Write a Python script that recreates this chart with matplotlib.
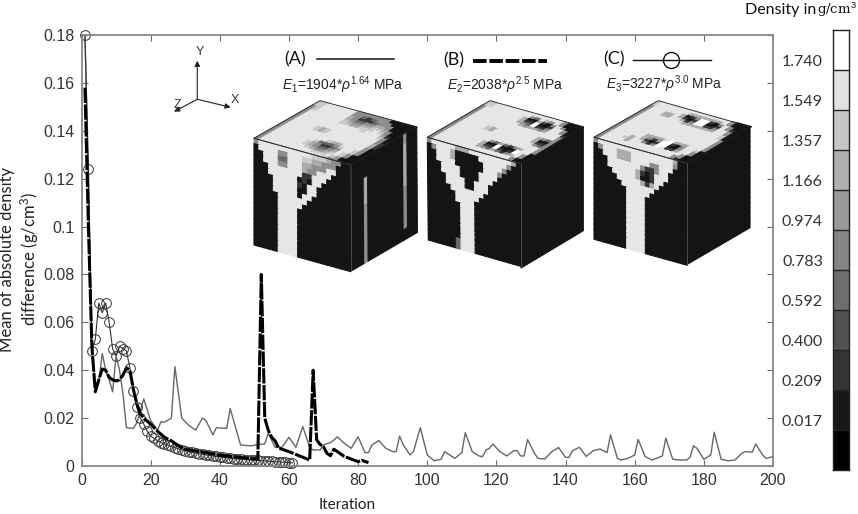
import matplotlib
matplotlib.use('Agg')

import matplotlib.pyplot as plt
from matplotlib.collections import PolyCollection
from matplotlib.patches import Polygon

plt.rcParams['font.family'] = ['Liberation Sans', 'DejaVu Sans']
plt.rcParams['mathtext.fontset'] = 'custom'
plt.rcParams['mathtext.rm'] = 'Liberation Sans'
plt.rcParams['mathtext.it'] = 'Liberation Sans:italic'
plt.rcParams['mathtext.bf'] = 'Liberation Sans:bold'

# curve (A), thin line, vertices
iter_a = [1, 2, 3, 4, 5, 6, 7, 8, 9, 10, 11, 12, 13, 15, 16, 18, 20, 22, 23, 24, 26, 27, 29, 31, 33, 35, 36,
          38, 39, 42, 43, 46, 49, 51, 53, 54, 56, 58, 60, 62, 64, 66, 67, 69, 70, 72, 73, 74, 76, 78, 80, 82,
          83, 84, 86, 88, 90, 91, 92, 93, 95, 96, 98, 100, 102, 104, 105, 108, 110, 111, 113, 115, 116, 117,
          118, 119, 121, 123, 125, 126, 127, 128, 129, 131, 132, 134, 136, 138, 140, 141, 142, 144, 146, 148,
          150, 152, 153, 155, 156, 158, 160, 161, 163, 165, 168, 169, 171, 173, 175, 176, 177, 178, 180, 182,
          183, 185, 187, 189, 191, 192, 194, 195, 197, 198, 200]
diff_a = [.18, .12, .05, .032, .035, .047, .04, .036, .031, .046, .04, .03, .016, .0157, .018, .028, .019,
          .015, .0185, .0183, .02, .0415, .02, .017, .015, .02, .019, .013, .016, .0157, .024, .0088, .0084,
          .009, .0092, .0137, .0078, .0078, .012, .0078, .0165, .0078, .0067, .0067, .0088, .0098, .0108,
          .0122, .0095, .0074, .0122, .0056, .0056, .0088, .0106, .0074, .006, .006, .0125, .009, .0046,
          .006, .016, .0046, .0022, .0028, .006, .0032, .0056, .0139, .006, .0042, .0039, .0067, .0074,
          .0092, .006, .0042, .0064, .0064, .0042, .0042, .0111, .0053, .0032, .0029, .006, .0077, .0036,
          .0036, .0064, .0078, .004, .0064, .0071, .0056, .013, .0032, .0025, .0032, .0046, .0111, .004,
          .0025, .0042, .0116, .0028, .0025, .0025, .0036, .0084, .0074, .0028, .0046, .0141, .0028, .0022,
          .0025, .0053, .006, .0058, .0092, .0046, .0032, .0039]

# curve (B), thick dashed line
iter_b = [1, 2, 3, 4, 5, 6, 7, 8, 9, 10, 11, 12, 13, 14, 15, 16, 17, 18, 20, 22, 24, 26, 28, 30, 35, 40, 45,
          50, 51, 52, 53, 54, 55, 56, 57, 60, 66, 67, 68, 69, 70, 71, 72, 73, 76, 80, 81, 83]
diff_b = [.158, .1, .05, .031, .036, .0405, .04, .037, .036, .0355, .036, .038, .041, .04, .032, .026, .022,
          .02, .0175, .0145, .012, .0105, .0085, .007, .0058, .0045, .0037, .003, .003, .08, .02, .015, .012,
          .0105, .0075, .006, .0025, .04, .011, .009, .008, .0053, .0043, .007, .004, .0018, .0024, .0014]

# curve (C), thin line with open circles
iter_c = list(range(1, 62))
diff_c = [.18, .124, .048, .053, .068, .064, .068, .06, .049, .046, .05, .049, .048, .041, .0315, .0245, .02,
          .0175, .0145, .0125, .0115, .0105, .0098, .0092, .0087, .0082, .0077, .0072, .0068, .0064, .006,
          .0057, .0054, .0051, .0049, .0046, .0044, .0042, .004, .0038, .0036, .0034, .0032, .0031, .003,
          .0028, .0027, .0026, .0025, .0024, .0023, .0022, .0021, .002, .0019, .0018, .0017, .0016, .0015,
          .0014, .0013]

y_ticks = [0, .02, .04, .06, .08, .1, .12, .14, .16, .18]
y_labels = ['0', '0.02', '0.04', '0.06', '0.08', '0.1', '0.12', '0.14', '0.16', '0.18']
x_ticks = list(range(0, 201, 20))

density_labels = ['1.740', '1.549', '1.357', '1.166', '0.974', '0.783', '0.592', '0.400', '0.209', '0.017']
density_grays = [1.0, .88, .78, .69, .6, .52, .43, .32, .21, .09, 0.0]

# voxel faces, one digit per cell, index into FACE_GRAYS
FACE_GRAYS = ['#141414', '#383838', '#6a6a6a', '#8e8e8e', '#ababab', '#c9c9c9', '#e6e6e6', '#ffffff']

top_a = ['33333333333333333355', '66666666666666665555', '66666666666666666666', '66666666666666666666',
         '66666666666666666666', '66666666666666666666', '66666666655666666666', '66666666644666666666',
         '66655666655666554433', '66544566666666543333', '66433266666666432123', '65321256666666432113',
         '65321246666666543123', '65432346666665543233', '56543566666666554333', '35666666666666654330',
         '33556666666666543300', '00335566666654330000', '00003333443331000000', '00000000111000000000']
left_a = ['36666666666655543300', '06666336665544333000', '00666226664433366000', '00666336664336660000',
          '00066666661166600000', '00066666601066000000', '00006666610660000000', '00006666600660000000',
          '00006666606600000000', '00000666666000000000', '00000666660000000000', '00000666600000000000',
          '00000666600000000000', '00000666600000000000', '00000666600000000000', '00000666600000000000',
          '00000666600000000000', '00000666600000000000', '00000666600000000000', '00000666600000000000']
right_a = ['00000000000000003000', '00000000000000003000', '00000000000000004000', '00000000000000004000',
           '00004000000000004000', '00004000000000004000', '00004000000000004000', '00004000000000004000',
           '00004000000000004000', '00003000000000004000', '00003000000000003000', '00003000000000003000',
           '00003000000000003000', '00003000000000003000', '00003000000000003000', '00003000000000003000',
           '00003000000000003000', '00003000000000003000', '00003000000000000000', '00003000000000000000']

top_b = ['33333333333333333355', '66666666666666666655', '66666666666666666666', '66666666666666666666',
         '66666666666666666666', '66666666666666666666', '66666666655666666666', '66666666644666666666',
         '66666666666666666666', '66444666666666644466', '66310366666666431036', '66210266666666321026',
         '66477466666666477466', '66210266666666410146', '66100166666666310036', '66310366666666431366',
         '66477466644466666633', '33666666310366666300', '00336666210266633000', '00000333333333100000']
left_b = ['36666644466666666640', '03666400000666666300', '00666400000066663000', '00666600000066630000',
          '00066660000666600000', '00066660000666000000', '00006666006660000000', '00006666006660000000',
          '00000666666600000000', '00000066666000000000', '00000066660000000000', '00000006660000000000',
          '00000006660000000000', '00000006660000000000', '00000006660000000000', '00000006660000000000',
          '00000006660000000000', '00000006660000000000', '00000026660000000000', '00000026660000000000']
right_dark = ['00000000000000000000'] * 20

top_c = ['33333333333333333355', '66666666666666666666', '66666666666666666666', '66666666666666666666',
         '66656666666666644666', '66444666666666644666', '66666666666666666666', '66664446666666664466',
         '66631346666666641046', '66610146666666410146', '66631346666666431346', '66677766666666477746',
         '66667776666666477746', '66610146666666410146', '66610046666666410046', '66643346666666431366',
         '33666666666666666633', '03366666666666663300', '00033566666655331000', '00000033333300000000']
left_c = ['36666666666666666400', '03666444666666666300', '00666444666633666000', '00066666663113660000',
          '00066666641016660000', '00006666640016600000', '00000666664146000000', '00000066666660000000',
          '00000006666600000000', '00000006666000000000', '00000006666000000000', '00000006666000000000',
          '00000006666000000000', '00000006666000000000', '00000006666000000000', '00000006666000000000',
          '00000006666000000000', '00000006666000000000', '00000006666000000000', '00000006666000000000']


def draw_face(ax, grid, origin, col_end, row_end):
    """Maps a grid of gray digits onto the parallelogram given by three corners in pixels."""
    n_rows, n_cols = len(grid), len(grid[0])
    dcx = (col_end[0] - origin[0]) / n_cols
    dcy = (col_end[1] - origin[1]) / n_cols
    drx = (row_end[0] - origin[0]) / n_rows
    dry = (row_end[1] - origin[1]) / n_rows

    polys, colors = [], []
    for r, row in enumerate(grid):
        for c, level in enumerate(row):
            base_x = origin[0] + c * dcx + r * drx
            base_y = origin[1] + c * dcy + r * dry
            polys.append([(base_x, base_y), (base_x + dcx, base_y + dcy),
                          (base_x + dcx + drx, base_y + dcy + dry), (base_x + drx, base_y + dry)])
            colors.append(FACE_GRAYS[int(level)])
    ax.add_collection(PolyCollection(polys, facecolors=colors, edgecolors=colors, linewidths=0.8))


def draw_cube(ax, top, left, right, corners):
    back, lft, rgt, front, bot_left, bot_front, bot_right = corners
    draw_face(ax, top, lft, back, front)
    draw_face(ax, left, lft, front, bot_left)
    draw_face(ax, right, front, rgt, bot_front)
    ax.add_patch(Polygon([lft, back, rgt, front], fill=False, edgecolor='#222222', linewidth=0.6))
    ax.plot([front[0], bot_front[0]], [front[1], bot_front[1]], color='#555555', linewidth=0.6)
    ax.plot([front[0], lft[0]], [front[1], lft[1]], color='#333333', linewidth=0.6)


fig = plt.figure(figsize=(8.58, 5.14), dpi=100)
FIG_W, FIG_H = 858, 514

ax = fig.add_axes([81.5 / FIG_W, 1 - 466 / FIG_H, (773 - 81.5) / FIG_W, (466 - 35) / FIG_H])
ax.plot(iter_a, diff_a, color='#666666', linewidth=1.0)
ax.plot(iter_c, diff_c, color='#333333', linewidth=0.8, marker='o', markersize=7,
        markerfacecolor='none', markeredgecolor='#333333', markeredgewidth=0.7, clip_on=False)
ax.plot(iter_b, diff_b, color='black', linewidth=2.2, linestyle=(0, (5, 0.5)))

ax.set_xlim(0, 200)
ax.set_ylim(0, 0.18)
ax.set_xticks(x_ticks)
ax.set_yticks(y_ticks)
ax.set_yticklabels(y_labels)
ax.tick_params(direction='in', length=4, width=0.8, color='#666666', labelcolor='#333333',
               labelsize=11.5, top=True, right=True, pad=5)
for spine in ax.spines.values():
    spine.set_color('#888888')
    spine.set_linewidth(1.3)

# overlay in reference pixels for the insets and the annotations
over = fig.add_axes([0, 0, 1, 1])
over.set_xlim(0, FIG_W)
over.set_ylim(FIG_H, 0)
over.axis('off')

SANS = ['Lato', 'DejaVu Sans']
over.text(347, 505, 'Iteration', family=SANS, fontsize=11, ha='center', va='center', color='#222222')
over.text(20, 259, 'Mean of absolute density\ndifference (g/cm$^3$)', family=SANS, fontsize=12, rotation=90,
          ha='center', va='center', color='#222222', linespacing=1.15)
over.text(745, 10, 'Density in', family=SANS, fontsize=11.5, ha='left', va='center', color='#111111')
over.text(817, 10, 'g/cm$^3$', family=['DejaVu Serif'], fontsize=9.5, ha='left', va='center', color='#111111')

# orientation triad
origin = (197.3, 99.3)
for tip, name, label_pos in [((197.3, 60.7), 'Y', (200, 52)), ((230.7, 107.3), 'X', (234.7, 100)),
                             ((174, 111.7), 'Z', (177, 105))]:
    over.annotate('', xy=tip, xytext=origin,
                  arrowprops=dict(arrowstyle='-|>', color='#222222', linewidth=0.8, mutation_scale=8,
                                  shrinkA=0, shrinkB=0))
    over.text(label_pos[0], label_pos[1], name, fontsize=9, ha='center', va='center', color='#333333')

# legend headers
over.text(295.5, 59, '(A)', family=SANS, fontsize=13, ha='center', va='center', color='#111111')
over.plot([317, 394], [59, 59], color='#111111', linewidth=1.1)
over.text(454, 60, '(B)', family=SANS, fontsize=13, ha='center', va='center', color='#111111')
over.plot([473, 547], [60.7, 60.7], color='black', linewidth=2.8, linestyle=(0, (3.5, 0.7)))
over.text(614, 59, '(C)', family=SANS, fontsize=13, ha='center', va='center', color='#111111')
over.plot([633, 711], [60, 60], color='#111111', linewidth=1.0)
over.plot([671], [60], marker='o', markersize=11.5, markerfacecolor='none', markeredgecolor='#111111',
          markeredgewidth=1.0)

over.text(282.5, 85, r'$\mathit{E}_{\mathit{1}}$=1904*$\rho^{1.64}$ MPa', fontsize=10, ha='left', va='center',
          color='#222222')
over.text(447, 85, r'$\mathit{E}_{\mathit{2}}$=2038*$\rho^{2.5}$ MPa', fontsize=10, ha='left', va='center',
          color='#222222')
over.text(606, 84, r'$\mathit{E}_{\mathit{3}}$=3227*$\rho^{3.0}$ MPa', fontsize=10, ha='left', va='center',
          color='#222222')

draw_cube(over, top_a, left_a, right_a,
          [(320, 100.7), (254, 138.3), (416.7, 126.7), (351, 165), (254, 245), (351.7, 270.7), (416, 230)])
draw_cube(over, top_b, left_b, right_dark,
          [(490, 100.7), (427.3, 137.3), (583.3, 126.7), (521, 164), (428.3, 240), (521, 268), (583, 228)])
draw_cube(over, top_c, left_c, right_dark,
          [(658.3, 100.7), (594, 137.3), (750, 126.7), (687.3, 163.3), (594, 239.3), (687.3, 264.3), (750, 228)])

# density scale
for i, label in enumerate(density_labels):
    over.text(802.5, 61.5 + i * 40, label, family=SANS, fontsize=11.5, ha='center', va='center', color='#333333')

cbar = fig.add_axes([833 / FIG_W, 1 - 470 / FIG_H, 16 / FIG_W, 440 / FIG_H])
cbar.imshow([[g] for g in density_grays], cmap='gray', vmin=0, vmax=1, aspect='auto', interpolation='nearest')
cbar.set_xticks([])
cbar.set_yticks([])
cbar.hlines([i + 0.5 for i in range(len(density_grays) - 1)], -0.5, 0.5, color='#222222', linewidth=1.0)
for spine in cbar.spines.values():
    spine.set_color('#222222')
    spine.set_linewidth(1.0)

fig.savefig('out.png', dpi=100)
